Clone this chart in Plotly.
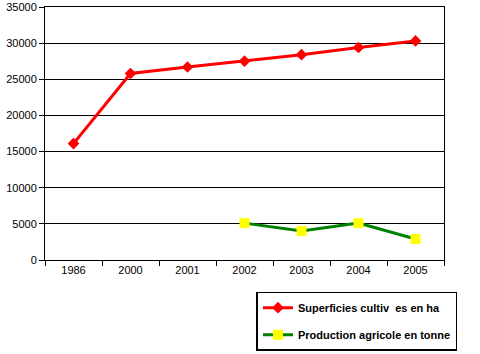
import plotly.graph_objects as go

years = ["1986", "2000", "2001", "2002", "2003", "2004", "2005"]
superficies = [16100, 25800, 26700, 27500, 28400, 29400, 30300]
production = [None, None, None, 5100, 4000, 5100, 2900]
y_ticks = [0, 5000, 10000, 15000, 20000, 25000, 30000, 35000]

fig = go.Figure()
fig.add_trace(go.Scatter(
    x=years, y=superficies, mode="lines+markers",
    name="Superficies cultiv  es en ha",
    line=dict(color="#ff0000", width=3),
    marker=dict(symbol="diamond", size=9, color="#ff0000"),
    legendgroup="a",
))
fig.add_trace(go.Scatter(
    x=years, y=production, mode="lines+markers",
    name="Production agricole en tonne",
    line=dict(color="#008000", width=3),
    marker=dict(symbol="square", size=10, color="#ffff00"),
    legendgroup="b",
))

fig.update_layout(
    width=480, height=354,
    margin=dict(l=45, r=36, t=7, b=94, autoexpand=False),
    paper_bgcolor="white", plot_bgcolor="white",
    font=dict(family="Liberation Sans, Arial, sans-serif", size=11, color="black"),
    showlegend=True,
    legend=dict(
        x=0.53, y=-0.125, xanchor="left", yanchor="top",
        bordercolor="black", borderwidth=1.5, bgcolor="white",
        font=dict(size=11, family="Liberation Sans, Arial, sans-serif", color="black", weight="bold"),
        tracegroupgap=8,
    ),
)
fig.update_xaxes(
    type="category", tickson="boundaries", ticks="outside", ticklen=5,
    tickcolor="black", showline=True, linecolor="black", linewidth=1,
    mirror=True, showgrid=False, range=[-0.5, 6.5], automargin=False,
)
fig.update_yaxes(
    range=[0, 35000], tickvals=y_ticks, ticktext=[str(v) for v in y_ticks],
    ticks="outside", ticklen=5, ticklabeloverflow="allow", automargin=False,
    tickcolor="black", showline=True, linecolor="black", linewidth=1,
    mirror=True, showgrid=True, gridcolor="black", gridwidth=1,
    zeroline=False,
)

fig.write_html("out.html")
